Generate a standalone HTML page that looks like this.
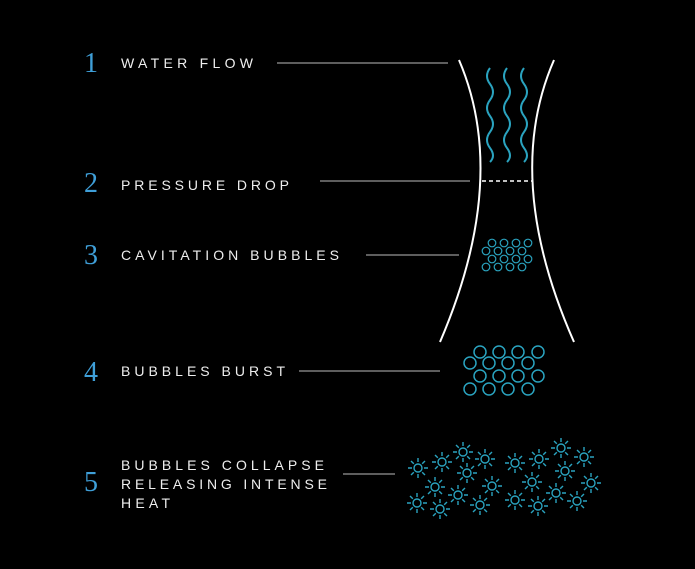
<!DOCTYPE html>
<html><head><meta charset="utf-8"><style>
html,body{margin:0;padding:0;background:#000;}
svg{display:block}
.n{font-family:"Liberation Serif",serif;font-size:28px;fill:#3f9fd8}
.t{font-family:"Liberation Sans",sans-serif;font-size:14px;fill:#eee}
</style></head><body>
<svg width="695" height="569" viewBox="0 0 695 569" xmlns="http://www.w3.org/2000/svg">
<defs>
<g id="s" stroke="#2aa3bf" stroke-width="1.4" fill="none">
<circle r="4"/>
<path d="M0,-6V-10M0,6V10M-6,0H-10M6,0H10M4.2,4.2L7,7M-4.2,-4.2L-7,-7M4.2,-4.2L7,-7M-4.2,4.2L-7,7"/>
</g>
</defs>
<rect width="695" height="569" fill="#000"/>
<g class="n">
<text x="84" y="72">1</text><text x="84" y="192">2</text><text x="84" y="264">3</text><text x="84" y="381">4</text><text x="84" y="491">5</text>
</g>
<g class="t">
<text x="121" y="68" textLength="132">WATER FLOW</text>
<text x="121" y="190" textLength="168">PRESSURE DROP</text>
<text x="121" y="260" textLength="218">CAVITATION BUBBLES</text>
<text x="121" y="376" textLength="164">BUBBLES BURST</text>
<text x="121" y="470" textLength="203">BUBBLES COLLAPSE</text>
<text x="121" y="489" textLength="206">RELEASING INTENSE</text>
<text x="121" y="508" textLength="49">HEAT</text>
</g>
<g stroke="#bbb" stroke-width="1">
<line x1="277" y1="63" x2="448" y2="63"/>
<line x1="320" y1="181" x2="470" y2="181"/>
<line x1="366" y1="255" x2="459" y2="255"/>
<line x1="299" y1="371" x2="440" y2="371"/>
<line x1="343" y1="474" x2="395" y2="474"/>
</g>
<g stroke="#fff" stroke-width="2" fill="none">
<path d="M459,60 Q510,179 440,342"/>
<path d="M554,60 Q502,179 574,342"/>
<line x1="482" y1="181" x2="533" y2="181" stroke-dasharray="4,3" stroke-width="1.5"/>
</g>
<g stroke="#2aa3bf" stroke-width="2" fill="none">
<path d="M490,68 q-6,8 0,16 t0,16 t0,16 t0,16 t0,16 t0,14"/>
<path d="M507,68 q-6,8 0,16 t0,16 t0,16 t0,16 t0,16 t0,14"/>
<path d="M524,68 q-6,8 0,16 t0,16 t0,16 t0,16 t0,16 t0,14"/>
</g>
<g stroke="#2aa3bf" stroke-width="1.2" fill="none">
<circle cx="492" cy="243" r="3.8"/><circle cx="504" cy="243" r="3.8"/><circle cx="516" cy="243" r="3.8"/><circle cx="528" cy="243" r="3.8"/>
<circle cx="486" cy="251" r="3.8"/><circle cx="498" cy="251" r="3.8"/><circle cx="510" cy="251" r="3.8"/><circle cx="522" cy="251" r="3.8"/>
<circle cx="492" cy="259" r="3.8"/><circle cx="504" cy="259" r="3.8"/><circle cx="516" cy="259" r="3.8"/><circle cx="528" cy="259" r="3.8"/>
<circle cx="486" cy="267" r="3.8"/><circle cx="498" cy="267" r="3.8"/><circle cx="510" cy="267" r="3.8"/><circle cx="522" cy="267" r="3.8"/>
</g>
<g stroke="#2aa3bf" stroke-width="1.5" fill="none">
<circle cx="480" cy="352" r="6"/><circle cx="499" cy="352" r="6"/><circle cx="518" cy="352" r="6"/><circle cx="538" cy="352" r="6"/>
<circle cx="470" cy="363" r="6"/><circle cx="489" cy="363" r="6"/><circle cx="508" cy="363" r="6"/><circle cx="528" cy="363" r="6"/>
<circle cx="480" cy="376" r="6"/><circle cx="499" cy="376" r="6"/><circle cx="518" cy="376" r="6"/><circle cx="538" cy="376" r="6"/>
<circle cx="470" cy="389" r="6"/><circle cx="489" cy="389" r="6"/><circle cx="508" cy="389" r="6"/><circle cx="528" cy="389" r="6"/>
</g>
<use href="#s" x="418" y="468"/><use href="#s" x="442" y="462"/><use href="#s" x="463" y="452"/><use href="#s" x="485" y="459"/>
<use href="#s" x="467" y="473"/><use href="#s" x="435" y="487"/><use href="#s" x="492" y="486"/><use href="#s" x="458" y="495"/>
<use href="#s" x="417" y="503"/><use href="#s" x="440" y="509"/><use href="#s" x="480" y="505"/><use href="#s" x="515" y="463"/>
<use href="#s" x="539" y="459"/><use href="#s" x="561" y="448"/><use href="#s" x="584" y="457"/><use href="#s" x="565" y="471"/>
<use href="#s" x="532" y="482"/><use href="#s" x="591" y="483"/><use href="#s" x="556" y="493"/><use href="#s" x="515" y="500"/>
<use href="#s" x="538" y="506"/><use href="#s" x="577" y="501"/>
</svg>
</body></html>
